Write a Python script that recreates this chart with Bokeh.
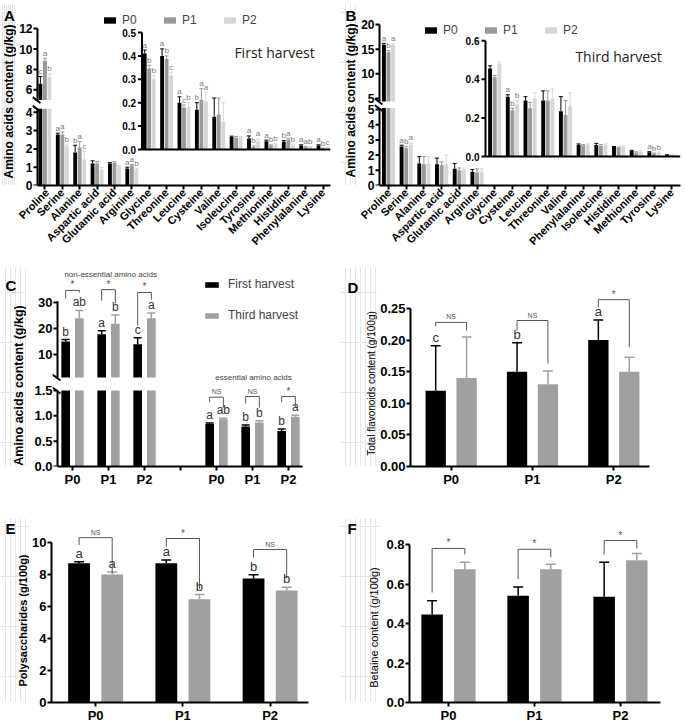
import math
from bokeh.plotting import figure
from bokeh.models import Range1d, FixedTicker, Legend, LegendItem
from bokeh.layouts import column, row
from bokeh.embed import file_html
from bokeh.resources import INLINE
from bokeh.core.properties import value

FONT = "Liberation Sans"
BLACK = "#000000"
MID = "#999999"
LIGHT = "#d6d6d6"
GRAY2 = "#a0a0a0"
BRC = "#555555"

# ---------------- data ----------------
treat = ["P0", "P1", "P2"]
harvest = ["First harvest", "Third harvest"]

# A: first harvest amino acids (g/kg); *_err = upper end of error bar
a_names = ["Proline", "Serine", "Alanine", "Aspartic acid", "Glutamic acid", "Arginine",
           "Glycine", "Threonine", "Leucine", "Cysteine", "Valine", "Isoleucine",
           "Tyrosine", "Methionine", "Histidine", "Phenylalanine", "Lysine"]
a_P0 = [6.6, 2.79, 1.8, 1.2, 1.2, 0.93, 0.41, 0.40, 0.20, 0.17, 0.14, 0.053, 0.047, 0.035, 0.033, 0.017, 0.017]
a_P0_err = [7.3, 2.86, 2.2, 1.35, 1.25, 1.0, 0.425, 0.43, 0.225, 0.20, 0.22, 0.057, 0.058, 0.04, 0.038, 0.02, 0.02]
a_P1 = [8.85, 2.79, 2.07, 1.2, 1.25, 1.1, 0.346, 0.387, 0.18, 0.213, 0.15, 0.05, 0.012, 0.017, 0.043, 0.01, 0.004]
a_P1_err = [9.1, 2.93, 2.4, 1.32, 1.3, 1.15, 0.36, 0.40, 0.19, 0.26, 0.22, 0.055, 0.015, 0.02, 0.048, 0.013, 0.006]
a_P2 = [7.25, 2.15, 1.42, 0.85, 1.05, 0.9, 0.30, 0.316, 0.183, 0.206, 0.12, 0.05, 0.035, 0.021, 0.017, 0.01, 0.007]
a_P2_err = [7.55, 2.22, 1.86, 0.98, 1.08, 0.95, 0.315, 0.33, 0.20, 0.245, 0.20, 0.055, 0.045, 0.025, 0.02, 0.013, 0.01]
a_L0 = ["c", "a", "b", "", "", "a", "a", "a", "a", "b", "", "", "a", "a", "b", "a", "a"]
a_L1 = ["a", "a", "a", "", "", "a", "b", "b", "c", "a", "", "", "b", "b", "a", "a", "b"]
a_L2 = ["b", "b", "c", "", "", "b", "b", "c", "b", "a", "", "", "a", "b", "b", "b", "c"]
a_ticks_low = [0, 1, 2, 3, 4]
a_ticks_high = [6, 8, 10, 12]
a_ticks_inset = [0.0, 0.1, 0.2, 0.3, 0.4, 0.5]

# B: third harvest amino acids (g/kg)
b_names = ["Proline", "Serine", "Alanine", "Aspartic acid", "Glutamic acid", "Arginine",
           "Glycine", "Cysteine", "Leucine", "Threonine", "Valine", "Phenylalanine",
           "Isoleucine", "Histidine", "Methionine", "Tyrosine", "Lysine"]
b_P0 = [15.9, 2.56, 1.45, 1.4, 1.1, 0.9, 0.456, 0.31, 0.29, 0.29, 0.235, 0.06, 0.06, 0.05, 0.028, 0.022, 0.008]
b_P0_err = [16.2, 2.65, 1.9, 1.8, 1.45, 1.05, 0.47, 0.32, 0.31, 0.34, 0.31, 0.065, 0.068, 0.052, 0.032, 0.025, 0.009]
b_P1 = [14.4, 2.45, 1.4, 1.35, 1.0, 0.85, 0.41, 0.24, 0.25, 0.29, 0.215, 0.058, 0.055, 0.045, 0.02, 0.015, 0.006]
b_P1_err = [14.7, 2.55, 1.9, 1.55, 1.15, 1.1, 0.42, 0.25, 0.28, 0.34, 0.29, 0.062, 0.062, 0.048, 0.024, 0.018, 0.007]
b_P2 = [15.85, 2.69, 1.45, 1.4, 1.05, 0.9, 0.48, 0.27, 0.30, 0.30, 0.26, 0.06, 0.058, 0.052, 0.025, 0.018, 0.006]
b_P2_err = [16.1, 2.8, 1.9, 2.0, 1.15, 1.1, 0.49, 0.29, 0.33, 0.35, 0.33, 0.065, 0.065, 0.055, 0.03, 0.022, 0.007]
b_L0 = ["a", "a", "", "", "", "", "", "a", "", "", "", "", "", "", "", "a", ""]
b_L1 = ["b", "b", "", "", "", "", "", "b", "", "", "", "", "", "", "", "b", ""]
b_L2 = ["a", "a", "", "", "", "", "", "b", "", "", "", "", "", "", "", "b", ""]
b_ticks_low = [0, 1, 2, 3, 4, 5]
b_ticks_high = [5, 10, 15, 20]
b_ticks_inset = [0.0, 0.2, 0.4, 0.6]

# C: non-essential (first 3) and essential (last 3) amino acids (g/kg)
c_cats = ["P0", "P1", "P2", "", "P0", "P1", "P2"]
c_pos = [0, 1, 2, 4, 5, 6]
c_first = [15.0, 17.8, 14.0, 0.84, 0.79, 0.70]
c_first_err = [15.8, 19.2, 16.5, 0.86, 0.82, 0.74]
c_third = [24.0, 21.9, 24.0, 0.93, 0.87, 0.98]
c_third_err = [27.0, 25.2, 26.0, 0.95, 0.90, 1.01]
c_L1 = ["b", "a", "c", "a", "b", "b"]
c_L3 = ["ab", "b", "a", "ab", "b", "a"]
c_sig = ["*", "*", "*", "NS", "NS", "*"]
c_br_line = [34.7, 35.0, 33.9, 1.367, 1.38, 1.38]
c_br_left = [31.6, 30.8, 21.2, 1.27, 1.24, 1.27]
c_br_right = [33.9, 29.7, 31.2, 1.16, 1.16, 1.16]
c_ticks_low = [0.0, 0.5, 1.0, 1.5]
c_ticks_high = [10, 20, 30]

# D: total flavonoids (g/100g)
d_first = [0.12, 0.15, 0.20]
d_first_err = [0.191, 0.196, 0.232]
d_third = [0.14, 0.13, 0.15]
d_third_err = [0.205, 0.151, 0.173]
d_L1 = ["c", "b", "a"]
d_L3 = ["", "", ""]
d_sig = ["NS", "NS", "*"]
d_br_line = [0.228, 0.231, 0.264]
d_br_left = [0.222, 0.215, 0.252]
d_br_right = [0.215, 0.163, 0.189]
d_ticks = [0.0, 0.05, 0.10, 0.15, 0.20, 0.25]

# E: polysaccharides (g/100g)
e_first = [8.7, 8.7, 7.75]
e_first_err = [8.8, 8.9, 7.98]
e_third = [8.0, 6.45, 7.0]
e_third_err = [8.15, 6.75, 7.2]
e_L1 = ["a", "a", "b"]
e_L3 = ["a", "b", "b"]
e_sig = ["NS", "*", "NS"]
e_br_line = [10.3, 10.25, 9.56]
e_br_left = [9.85, 9.75, 9.06]
e_br_right = [8.1, 7.1, 7.75]
e_ticks = [0, 2, 4, 6, 8, 10]

# F: betaine (g/100g)
f_first = [0.445, 0.54, 0.535]
f_first_err = [0.515, 0.585, 0.71]
f_third = [0.675, 0.675, 0.72]
f_third_err = [0.71, 0.70, 0.755]
f_L1 = ["", "", ""]
f_L3 = ["", "", ""]
f_sig = ["*", "*", "*"]
f_br_line = [0.78, 0.776, 0.82]
f_br_left = [0.557, 0.624, 0.75]
f_br_right = [0.75, 0.734, 0.78]
f_ticks = [0.0, 0.2, 0.4, 0.6, 0.8]


# ---------------- helpers ----------------
def make_T(bot_scale, lo_top, hi_start, hi_u0, hi_scale):
    def T(v, seg=None):
        if seg == "bot" or (seg is None and v <= lo_top):
            return bot_scale * v
        return hi_u0 + (v - hi_start) * hi_scale
    return T


def ident(v, seg=None):
    return v


def make_fig(w, h, fl, fr, ft, fb, xr, yr):
    p = figure(width=w, height=h, x_range=Range1d(*xr), y_range=Range1d(*yr),
               output_backend="svg", toolbar_location=None,
               min_border_left=fl, min_border_right=fr, min_border_top=ft, min_border_bottom=fb)
    p.title.visible = False
    p.outline_line_color = None
    p.xgrid.visible = False
    p.ygrid.visible = False
    for ax in (p.xaxis[0], p.yaxis[0]):
        ax.axis_line_width = 2
        ax.axis_line_color = "black"
        ax.major_tick_line_width = 2
        ax.major_tick_line_color = "black"
        ax.major_tick_out = 4
        ax.major_tick_in = 0
        ax.minor_tick_line_color = None
        ax.major_label_text_font = FONT
        ax.major_label_text_font_style = "bold"
        ax.major_label_text_color = "black"
        ax.major_label_standoff = 1
    g = dict(ppx=(w - fl - fr) / (xr[1] - xr[0]), ppy=(h - ft - fb) / (yr[1] - yr[0]),
             x0=xr[0], x1=xr[1])
    return p, g


def txt(p, xs, ys, texts, size, color="black", align="center", baseline="bottom", style="normal",
        font=FONT, angle=0.0):
    p.text(x=xs, y=ys, text=texts, text_font=value(font), text_font_size=value(size),
           text_color=color, text_align=align, text_baseline=baseline, text_font_style=style,
           angle=angle)


def side_fig(w, h, ft, fb, letter, letter_xy, title, title_xy, title_size, title_bold):
    """Narrow strip left of a panel with the panel letter and the value-axis title.
    Its borders equal the row's borders, so y data = h - (pixels from the top)."""
    s = figure(width=w, height=h, x_range=Range1d(0, w), y_range=Range1d(fb, h - ft),
               output_backend="svg", toolbar_location=None,
               x_axis_location=None, y_axis_location=None,
               min_border_left=0, min_border_right=0, min_border_top=ft, min_border_bottom=fb)
    s.title.visible = False
    s.outline_line_color = None
    txt(s, [letter_xy[0]], [h - letter_xy[1]], [letter], "15px", "black", "left", "alphabetic", "bold")
    txt(s, [title_xy[0]], [h - title_xy[1]], [title], title_size, "black", "center", "middle",
        "bold" if title_bold else "normal", angle=math.pi / 2)
    return s


def set_xticks(p, pos, labels, size, orient=None):
    ax = p.xaxis[0]
    ax.ticker = FixedTicker(ticks=pos, minor_ticks=[])
    ax.major_label_overrides = {q: l for q, l in zip(pos, labels)}
    ax.major_label_text_font_size = size
    if orient is not None:
        ax.major_label_orientation = orient


def set_yticks(p, us, labels, size, bounds=None):
    us = [round(u, 4) for u in us]
    ax = p.yaxis[0]
    ax.ticker = FixedTicker(ticks=us, minor_ticks=[])
    ax.major_label_overrides = {u: l for u, l in zip(us, labels)}
    ax.major_label_text_font_size = size
    if bounds is not None:
        ax.bounds = bounds
    return us


def add_series(p, xs, vals, errs, color, bw, T, base, brk, capw, elw):
    bx, bb, bt = [], [], []
    for x, v in zip(xs, vals):
        if brk is not None and v > brk[0]:
            bx += [x, x]
            bb += [base, T(brk[1], "top")]
            bt += [T(brk[0], "bot"), T(v)]
        else:
            bx.append(x)
            bb.append(base)
            bt.append(T(v))
    r = p.vbar(x=bx, width=bw, bottom=bb, top=bt, fill_color=color, line_color=None)
    y0 = [T(v) for v in vals]
    y1 = [T(e) for e in errs]
    p.segment(x0=xs, y0=y0, x1=xs, y1=y1, line_color=color, line_width=elw)
    p.segment(x0=[x - capw for x in xs], y0=y1, x1=[x + capw for x in xs], y1=y1,
              line_color=color, line_width=elw)
    return r


def broken_yaxis(p, g, xa, tick_us, labels, size, u_lo, u_hi, u_top):
    """Broken value axis: tick labels from Bokeh's axis; line, ticks and break marks drawn in the frame."""
    ax = p.yaxis[0]
    ax.axis_line_color = None
    ax.major_tick_line_color = None
    ax.major_tick_out = 0
    ax.major_label_standoff = 0
    us = set_yticks(p, tick_us, labels, size)
    p.segment(x0=[xa, xa], y0=[0, u_hi], x1=[xa, xa], y1=[u_lo, u_top], line_color="black", line_width=2)
    tl = 4.0 / g["ppx"]
    p.segment(x0=[xa - tl] * len(us), y0=us, x1=[xa] * len(us), y1=us, line_color="black", line_width=2)
    dx = 1.0 / g["ppx"]
    dy = 1.0 / g["ppy"]
    p.segment(x0=[xa - 5 * dx, xa - 5 * dx], y0=[u_lo + 3 * dy, u_hi + 3 * dy],
              x1=[xa + 3 * dx, xa + 3 * dx], y1=[u_lo - 3 * dy, u_hi - 3 * dy],
              line_color="black", line_width=2)
    p.xaxis[0].bounds = (xa, g["x1"])


def add_brackets(p, g, centers, off, line, lb, rb, sig, T):
    xs, ys = [], []
    for c, l, a, b in zip(centers, line, lb, rb):
        xs.append([c - off, c - off, c + off, c + off])
        ys.append([T(a), T(l), T(l), T(b)])
    p.multi_line(xs=xs, ys=ys, line_color=BRC, line_width=1)
    for c, l, s in zip(centers, line, sig):
        size = "7px" if s == "NS" else "10px"
        dy = (2 if s == "NS" else 0) / g["ppy"]
        txt(p, [c], [T(l) + dy], [s], size, BRC)


def cat_range(w, fl, fr, c0, step, xaxis_px=None):
    """Category-unit x range from frame pixels: c0 = pixel of category 0, step = pixels per category."""
    x0 = (fl - c0) / step
    x1 = (w - fr - c0) / step
    xa = None if xaxis_px is None else (xaxis_px - c0) / step
    return x0, x1, xa


def amino_panel(names, vals, errs, lets, T, Tin, brk, dims, c0, step, xaxis_px, yr, yt_lo, yt_hi,
                y_top, x_in, t_in, leg_loc, note, note_xy):
    w, h, fl, fr, ft, fb = dims
    x0, x1, xa = cat_range(w, fl, fr, c0, step, xaxis_px)
    p, g = make_fig(w, h, fl, fr, ft, fb, (x0, x1), yr)
    n = len(names)
    set_xticks(p, list(range(n)), names, "11px", math.pi / 4)
    us = [T(v, "bot") for v in yt_lo] + [T(v, "top") for v in yt_hi]
    labs = [str(v) for v in yt_lo] + [str(v) for v in yt_hi]
    broken_yaxis(p, g, xa, us, labs, "12px", T(brk[0], "bot"), T(brk[1], "top"), T(y_top, "top"))
    offs = [-0.26, 0.0, 0.26]
    cols = [BLACK, MID, LIGHT]
    cap = 2.0 / g["ppx"]
    rs = []
    for s in range(3):
        xs = [i + offs[s] for i in range(n)]
        r = add_series(p, xs[:6], vals[s][:6], errs[s][:6], cols[s], 0.22, T, 0.0, brk, cap, 1.0)
        add_series(p, xs[6:], vals[s][6:], errs[s][6:], cols[s], 0.22, Tin, Tin(0), None, cap, 1.0)
        rs.append(r)
        ly = [T(e) + 0.5 / g["ppy"] for e in errs[s][:6]] + [Tin(e) + 0.5 / g["ppy"] for e in errs[s][6:]]
        txt(p, xs, ly, lets[s], "8px", "#7a7a7a")
    # inset value axis for the small amino acids
    y0 = Tin(0)
    p.segment(x0=[x_in], y0=[y0], x1=[x_in], y1=[Tin(t_in[-1])], line_color="black", line_width=2)
    p.segment(x0=[x_in], y0=[y0], x1=[x1], y1=[y0], line_color="black", line_width=2)
    tl = 4.0 / g["ppx"]
    tys = [Tin(t) for t in t_in]
    p.segment(x0=[x_in - tl] * len(t_in), y0=tys, x1=[x_in] * len(t_in), y1=tys,
              line_color="black", line_width=2)
    txt(p, [x_in - 6.0 / g["ppx"]] * len(t_in), tys, ["%.1f" % t for t in t_in], "10px",
        "black", "right", "middle", "bold")
    lg = Legend(items=[LegendItem(label=l, renderers=[r]) for l, r in zip(treat, rs)],
                location=leg_loc, orientation="horizontal", glyph_width=15, glyph_height=8,
                label_width=15, label_standoff=5, spacing=25, padding=0, margin=0,
                border_line_color=None, background_fill_alpha=0,
                label_text_font=FONT, label_text_font_size="12px")
    p.add_layout(lg)
    txt(p, [note_xy[0]], [note_xy[1]], [note], "14px", "#222222", "left", "middle", font="Open Sans")
    return p


def simple_panel(dims, xr, yr, first, first_err, third, third_err, l1, l3, ticks, fmt, ytop,
                 br_line, br_l, br_r, sig):
    w, h, fl, fr, ft, fb = dims
    p, g = make_fig(w, h, fl, fr, ft, fb, xr, yr)
    set_xticks(p, [0, 1, 2], treat, "13px")
    set_yticks(p, ticks, [fmt % t for t in ticks], "13px", (0, ytop))
    cap = 5.0 / g["ppx"]
    xs1 = [i - 0.19 for i in range(3)]
    xs3 = [i + 0.19 for i in range(3)]
    add_series(p, xs1, first, first_err, BLACK, 0.25, ident, 0.0, None, cap, 1.5)
    add_series(p, xs3, third, third_err, GRAY2, 0.25, ident, 0.0, None, cap, 1.5)
    dy = 1.0 / g["ppy"]
    txt(p, xs1, [e + dy for e in first_err], l1, "13px", "#333333")
    txt(p, xs3, [e + dy for e in third_err], l3, "13px", "#333333")
    add_brackets(p, g, [0, 1, 2], 0.19, br_line, br_l, br_r, sig, ident)
    return p


AA_TITLE = "Amino acids content (g/kg)"

# row borders (all plots in a row share top/bottom borders)
H1, FT1, FB1 = 262, 4, 77
H2, FT2, FB2 = 230, 5, 26
H3, FT3, FB3 = 234, 26, 24

# ---------------- panel A (0..340 x 0..262) ----------------
TA = make_T(18.3, 4.2, 5.0, 85.5, 10.2)


def TA_in(v, seg=None):
    return 36 + 234 * v


sA = side_fig(16, H1, FT1, FB1, "A", (3.5, 15), AA_TITLE, (8, 101), "12px", True)
pA = amino_panel(a_names, [a_P0, a_P1, a_P2], [a_P0_err, a_P1_err, a_P2_err], [a_L0, a_L1, a_L2],
                 TA, TA_in, (4.2, 5.0), (324, H1, 14, 10, FT1, FB1), 26.5, 17.5, 19,
                 (0, H1 - FT1 - FB1), a_ticks_low, a_ticks_high, 12, 5.585, a_ticks_inset, (70, 158),
                 harvest[0], (10.9, 133))

# ---------------- panel B (340..685 x 0..262) ----------------
TB = make_T(15.2, 5.1, 4.4, 84.04, 4.93)


def TB_in(v, seg=None):
    return 29 + 193 * v


sB = side_fig(18, H1, FT1, FB1, "B", (5, 15), AA_TITLE, (10, 100), "12px", True)
pB = amino_panel(b_names, [b_P0, b_P1, b_P2], [b_P0_err, b_P1_err, b_P2_err], [b_L0, b_L1, b_L2],
                 TB, TB_in, (5.1, 4.4), (327, H1, 16, 5, FT1, FB1), 30, 17.7, 21,
                 (0, H1 - FT1 - FB1), b_ticks_low, b_ticks_high, 20, 5.48, b_ticks_inset, (49, 148),
                 harvest[1], (10.56, 129))

# ---------------- panel C (0..340 x 262..492) ----------------
TC = make_T(50.7, 1.5, 1.2, 89.0, 2.6)
sC = side_fig(26, H2, FT2, FB2, "C", (5, 23), AA_TITLE, (18.5, 123), "12.5px", True)
wC, flC, frC = 314, 26, 38
x0C, x1C, xaC = cat_range(wC, flC, frC, 46, 36, 31)
pC, gC = make_fig(wC, H2, flC, frC, FT2, FB2, (x0C, x1C), (0, H2 - FT2 - FB2))
set_xticks(pC, list(range(7)), c_cats, "13px")
usC = [TC(v, "bot") for v in c_ticks_low] + [TC(v, "top") for v in c_ticks_high]
labC = ["%.1f" % v for v in c_ticks_low] + [str(v) for v in c_ticks_high]
broken_yaxis(pC, gC, xaC, usC, labC, "13px", TC(1.5, "bot"), TC(1.2, "top"), TC(30.5, "top"))
capC = 4.0 / gC["ppx"]
xc1 = [q - 0.19 for q in c_pos]
xc3 = [q + 0.19 for q in c_pos]
rC1 = add_series(pC, xc1, c_first, c_first_err, BLACK, 0.24, TC, 0.0, (1.5, 1.2), capC, 1.5)
rC3 = add_series(pC, xc3, c_third, c_third_err, GRAY2, 0.24, TC, 0.0, (1.5, 1.2), capC, 1.5)
dyC = 1.0 / gC["ppy"]
txt(pC, xc1, [TC(e) + dyC for e in c_first_err], c_L1, "12px", "#333333")
txt(pC, xc3, [TC(e) + dyC for e in c_third_err], c_L3, "12px", "#333333")
add_brackets(pC, gC, c_pos, 0.19, c_br_line, c_br_left, c_br_right, c_sig, TC)
txt(pC, [1.06], [192], ["non-essential amino acids"], "8px", "#444444", "center", "middle")
txt(pC, [5.03], [89], ["essential amino acids"], "8px", "#444444", "center", "middle")
lgC = Legend(items=[LegendItem(label=harvest[0], renderers=[rC1]), LegendItem(label=harvest[1], renderers=[rC3])],
             location=(151, 144), orientation="vertical", glyph_width=17, glyph_height=7,
             label_standoff=8, spacing=17, padding=0, margin=0, border_line_color=None,
             background_fill_alpha=0, label_text_font=FONT, label_text_font_size="12px")
pC.add_layout(lgC)

# ---------------- panels D, E, F ----------------
sD = side_fig(37, H2, FT2, FB2, "D", (7, 25), "Total flavonoids content (g/100g)", (31, 121), "10px", False)
pD = simple_panel((308, H2, 30, 36, FT2, FB2), (-0.5, 2.439), (0, (H2 - FT2 - FB2) / 632.0),
                  d_first, d_first_err, d_third, d_third_err, d_L1, d_L3, d_ticks, "%.2f", 0.25,
                  d_br_line, d_br_left, d_br_right, d_sig)
sE = side_fig(29, H3, FT3, FB3, "E", (5, 36), "Polysaccharides (g/100g)", (22.5, 128), "11px", True)
pE = simple_panel((311, H3, 20, 32, FT3, FB3), (-0.506, 2.44), (0, (H3 - FT3 - FB3) / 16.0),
                  e_first, e_first_err, e_third, e_third_err, e_L1, e_L3, e_ticks, "%d", 10,
                  e_br_line, e_br_left, e_br_right, e_sig)
sF = side_fig(40, H3, FT3, FB3, "F", (7, 36), "Betaine content (g/100g)", (33, 135), "11px", False)
pF = simple_panel((305, H3, 29, 25, FT3, FB3), (-0.453, 2.465), (0, (H3 - FT3 - FB3) / 197.5),
                  f_first, f_first_err, f_third, f_third_err, f_L1, f_L3, f_ticks, "%.1f", 0.8,
                  f_br_line, f_br_left, f_br_right, f_sig)

layout = column(row(sA, pA, sB, pB), row(sC, pC, sD, pD), row(sE, pE, sF, pF))
open("out.html", "w").write(file_html(layout, INLINE))
